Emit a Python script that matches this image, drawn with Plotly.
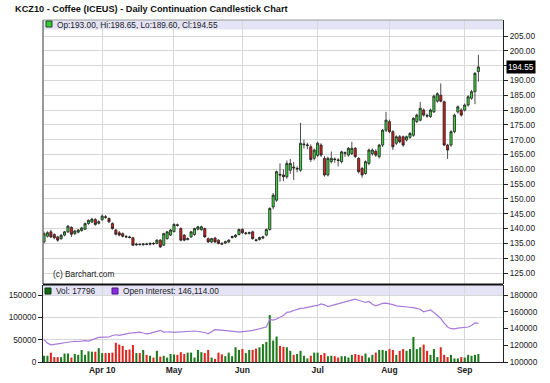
import plotly.graph_objects as go
import pandas as pd

TITLE = "KCZ10 - Coffee (ICEUS) - Daily Continuation Candlestick Chart"
holidays = ["2010-04-02", "2010-05-31", "2010-07-05", "2010-09-06"]
dates = [d for d in pd.bdate_range("2010-03-09", "2010-09-08")
         if d.strftime("%Y-%m-%d") not in holidays]

opens = [135.5, 137.4, 138.9, 138.0, 137.2, 136.6, 137.8, 138.9, 140.4, 138.3,
         138.8, 139.3, 139.8, 141.7, 142.2, 143.1, 141.8, 143.0, 144.0, 143.4,
         141.7, 139.5, 138.6, 138.3, 137.3, 137.2, 136.9, 134.5, 134.7, 134.6,
         134.8, 134.7, 135.0, 135.0, 136.1, 134.4, 136.6, 137.8, 139.0, 141.3,
         140.0, 137.8, 136.3, 137.2, 138.0, 139.8, 139.6, 140.0, 136.6, 135.5,
         136.8, 136.1, 135.0, 135.1, 135.5, 137.0, 137.2, 138.0, 139.7, 138.3,
         138.4, 138.9, 136.2, 136.3, 136.8, 137.8, 139.7, 147.3, 149.6, 158.3,
         158.1, 157.5, 159.7, 160.8, 160.1, 159.7, 168.3, 168.0, 167.6, 163.7,
         164.7, 168.2, 163.7, 158.1, 162.6, 163.5, 163.2, 162.6, 165.4, 164.8,
         165.3, 167.1, 163.7, 160.3, 158.6, 162.0, 165.3, 166.1, 164.3, 168.2,
         173.2, 176.1, 172.7, 168.8, 171.0, 171.0, 169.9, 170.8, 171.5, 176.1,
         176.6, 180.0, 178.2, 177.8, 179.4, 183.0, 185.0, 182.8, 168.2, 168.2,
         172.7, 179.4, 180.0, 180.0, 181.7, 184.0, 186.2, 193.00]
highs = [139.0, 139.1, 139.6, 138.4, 137.6, 138.2, 139.2, 141.2, 140.8, 139.6,
         139.9, 140.6, 142.0, 143.1, 143.6, 143.5, 142.8, 144.8, 144.6, 143.8,
         142.1, 139.9, 139.2, 138.7, 137.9, 137.6, 137.2, 135.2, 135.1, 135.0,
         135.2, 135.3, 135.4, 136.4, 136.4, 138.6, 139.2, 139.9, 141.8, 141.7,
         140.4, 138.1, 137.0, 139.2, 140.3, 140.9, 141.0, 140.3, 137.0, 136.9,
         137.2, 136.4, 135.4, 135.9, 136.4, 137.6, 138.1, 140.0, 140.1, 138.9,
         139.0, 139.3, 136.6, 137.3, 137.6, 140.0, 147.2, 152.0, 159.6, 162.0,
         160.0, 163.0, 163.5, 162.5, 161.0, 175.7, 170.0, 169.0, 168.4, 167.0,
         169.3, 168.8, 164.5, 164.3, 166.0, 164.0, 163.8, 166.3, 166.0, 167.5,
         169.3, 167.5, 164.1, 160.8, 163.0, 167.0, 167.0, 166.8, 168.6, 173.6,
         179.4, 176.8, 173.2, 171.5, 171.6, 171.4, 171.4, 172.6, 177.6, 178.8,
         182.8, 180.5, 178.8, 180.5, 185.2, 186.0, 189.0, 183.2, 168.6, 173.2,
         178.8, 181.6, 180.6, 182.2, 185.0, 186.8, 192.9, 198.65]
lows = [135.0, 137.0, 136.8, 136.4, 135.6, 136.2, 137.4, 138.5, 137.2, 137.9,
        138.4, 139.0, 139.5, 141.3, 141.9, 141.0, 141.4, 142.6, 143.3, 141.9,
        139.6, 137.7, 137.4, 137.0, 136.8, 136.7, 134.1, 134.2, 134.3, 134.2,
        134.4, 134.3, 134.5, 134.7, 133.5, 134.1, 136.3, 137.5, 138.7, 140.7,
        135.7, 135.7, 136.0, 136.9, 137.6, 139.4, 139.3, 136.9, 135.2, 135.1,
        135.2, 134.7, 134.4, 134.8, 135.2, 136.6, 136.9, 137.7, 138.2, 137.9,
        138.0, 136.3, 135.6, 136.0, 136.4, 137.4, 139.3, 146.5, 149.0, 155.8,
        156.0, 156.8, 158.5, 156.4, 159.0, 159.2, 167.0, 166.8, 162.5, 163.0,
        164.2, 164.2, 157.5, 157.6, 162.0, 162.2, 161.0, 162.0, 164.2, 164.3,
        164.8, 163.8, 158.6, 157.2, 158.2, 161.4, 164.6, 164.2, 163.6, 167.5,
        172.6, 172.2, 166.5, 168.2, 168.8, 167.6, 169.4, 170.3, 171.0, 175.6,
        176.2, 177.8, 177.4, 177.3, 179.0, 182.5, 182.6, 167.8, 163.5, 167.6,
        172.2, 178.8, 177.8, 179.5, 181.2, 183.5, 182.0, 189.60]
closes = [138.3, 138.6, 137.2, 136.9, 136.1, 137.7, 138.9, 140.8, 138.1, 139.2,
          139.5, 140.2, 141.7, 142.8, 143.2, 141.4, 142.3, 144.2, 143.8, 142.3,
          140.0, 138.1, 137.8, 137.4, 137.2, 137.0, 134.4, 134.7, 134.6, 134.8,
          134.7, 135.0, 134.9, 136.1, 133.8, 138.3, 138.9, 139.5, 141.4, 141.1,
          136.1, 136.1, 136.6, 138.9, 140.0, 140.6, 140.6, 137.2, 135.5, 136.6,
          135.5, 135.0, 134.8, 135.6, 136.1, 137.3, 137.8, 139.7, 138.6, 138.5,
          138.6, 136.6, 136.0, 137.0, 137.2, 139.7, 146.8, 151.3, 159.2, 158.1,
          157.5, 162.0, 162.0, 160.5, 160.3, 168.8, 168.5, 168.2, 163.3, 166.5,
          168.8, 164.8, 158.1, 163.7, 163.7, 163.3, 163.0, 165.9, 165.6, 167.1,
          167.1, 164.3, 159.2, 158.1, 162.6, 166.5, 166.5, 164.8, 168.2, 173.2,
          176.6, 172.7, 167.6, 171.0, 169.3, 168.2, 171.0, 172.1, 177.2, 178.3,
          180.6, 178.3, 178.0, 180.0, 184.7, 185.5, 183.0, 168.2, 166.5, 172.7,
          178.3, 181.1, 178.3, 181.7, 184.5, 186.2, 192.4, 194.55]
volume = [14000, 14000, 21000, 11000, 11000, 11000, 19000, 19000, 10000, 18000,
          16000, 27000, 16000, 24000, 23000, 23000, 31000,
          20000, 20000, 20000, 21000, 43000, 39000, 36000, 27000, 28000, 38000,
          20000, 20000, 27000, 16000, 14000, 10000, 25000, 12000, 14000, 10000, 18000,
          17000, 16000, 22000, 18000, 21000, 21000, 10000, 27000, 22000, 20000,
          27000, 10000, 7000, 21000, 17000, 13000, 21000, 13000, 33000, 27000,
          29000, 20000, 27000, 27000, 30000, 33000, 40000, 45000, 105000, 48000,
          57000, 36000, 34000, 33000, 25000, 16000, 18000, 25000, 14000, 8000,
          14000, 21000,
          21000, 16000, 20000, 13000, 14000, 13000, 10000, 13000, 13000, 10000,
          16000, 18000, 16000, 14000, 19000, 10000, 16000, 21000, 27000,
          27000, 25000, 29000, 27000, 16000, 25000, 29000, 25000, 29000, 56000,
          29000, 33000, 39000, 25000, 16000, 29000, 11000, 33000, 16000, 11000,
          16000, 8000, 8000, 11000, 10000, 16000, 14000, 16000, 17796]
open_interest = [126800, 122500, 120500, 121400, 122000, 122300, 123000, 123600, 124200, 124800,
                 124500, 125300, 125600, 125000, 126800, 127900, 129400,
                 129600, 130400, 130100, 131600, 132500, 131800, 133000, 133400, 134500, 134800,
                 135300, 135700, 134600, 133700, 134200, 135100, 136200, 137800, 135700, 135900,
                 136100,
                 135400, 135800, 135600, 135700, 136200, 136600, 137000, 136400, 135900, 135200,
                 133700, 136500, 138600, 138400, 138000, 137500, 137800, 137000, 136300, 135700,
                 135900, 136400, 137100, 137800, 138900, 140200, 141000, 141800, 150700, 150000,
                 151400, 153200, 155600, 159300, 159800, 161500, 162900, 164100, 164400, 165500,
                 166300, 167000,
                 167500, 169400, 168300, 166200, 167400, 168600, 169400, 170500, 171600, 172900,
                 174300, 175100, 173700, 172400, 171100, 172300, 169000, 167000, 168400, 169900,
                 170200,
                 169700, 168500, 167000, 166800, 166200, 165800, 165400, 164900, 164100, 163000,
                 160000, 161200, 162100, 159000, 155200, 152000, 146500, 141800, 139800, 139600,
                 140400, 141000, 141300, 141800, 143500, 146700, 146114]

month_labels = ["Apr 10", "May", "Jun", "Jul", "Aug", "Sep"]
price_ticks = [125, 130, 135, 140, 145, 150, 155, 160, 165, 170, 175, 180, 185, 190, 195, 200, 205]
vol_ticks = [0, 50000, 100000, 150000]
oi_ticks = [100000, 120000, 140000, 160000, 180000]

n = len(closes)
x = list(range(n))
month_idx = []
for k in range(1, len(dates)):
    if dates[k].month != dates[k - 1].month:
        month_idx.append(k)

# pixel helpers (plot area: x 43..503, y 20..362)
L, R, T, B = 43, 503, 20, 362
def pxx(p):
    return (p - L) / (R - L)
def pxy(p):
    return (B - p) / (B - T)

GRID = "#d8d8d8"
FONT = "Liberation Sans, Arial, sans-serif"
SMALL = 8.3

vol_colors = ["#1d7a1d" if c >= o else "#e0261f" for o, c in zip(opens, closes)]

fig = go.Figure()
fig.add_trace(go.Bar(x=x, y=volume, xaxis="x", yaxis="y2", marker_color=vol_colors,
                     marker_line_width=0, width=0.6, showlegend=False, hoverinfo="skip"))
fig.add_trace(go.Scatter(x=x, y=open_interest, xaxis="x", yaxis="y3", mode="lines",
                         line=dict(color="#a77ad8", width=1.2), showlegend=False, hoverinfo="skip"))
fig.add_trace(go.Candlestick(x=x, open=opens, high=highs, low=lows, close=closes,
                             xaxis="x2", yaxis="y",
                             increasing=dict(fillcolor="#3fd63f", line=dict(color="#202020", width=0.8)),
                             decreasing=dict(fillcolor="#d91c1c", line=dict(color="#202020", width=0.8)),
                             whiskerwidth=0, showlegend=False, hoverinfo="skip"))

main_bottom = pxy(284)
low_top = pxy(285)
xr = [-0.3, 134.2]

price_text = [("" if v == 195 else f"{v:.2f}") for v in price_ticks]

fig.update_layout(
    width=550, height=383,
    margin=dict(l=L, r=550 - R, t=T, b=383 - B, autoexpand=False),
    paper_bgcolor="white", plot_bgcolor="white",
    font=dict(family=FONT, size=SMALL, color="#222"),
    boxgap=0.1,
    xaxis=dict(domain=[0, 1], anchor="y2", range=xr, tickvals=month_idx,
               ticktext=[f"<b>{t}</b>" for t in month_labels], ticks="",
               showgrid=True, gridcolor=GRID, gridwidth=1, zeroline=False,
               showline=True, linecolor="#222", linewidth=1, automargin=False,
               rangeslider=dict(visible=False), tickfont=dict(size=8.5, color="#222")),
    xaxis2=dict(domain=[0, 1], anchor="y", range=xr, matches="x", tickvals=month_idx,
                showticklabels=False, ticks="", showgrid=True, gridcolor=GRID,
                zeroline=False, showline=False, automargin=False,
                rangeslider=dict(visible=False)),
    yaxis=dict(domain=[main_bottom, 1], side="right", range=[121.3, 210.4],
               tickvals=price_ticks, ticktext=price_text, ticks="outside", ticklen=4,
               tickcolor="#222", showline=True, linecolor="#222", linewidth=1, automargin=False,
               showgrid=True, gridcolor=GRID, zeroline=False, tickfont=dict(size=SMALL)),
    yaxis2=dict(domain=[0, low_top], side="left", range=[0, 172400], tickvals=vol_ticks,
                ticktext=[str(v) for v in vol_ticks], automargin=False,
                ticks="outside", ticklen=4, tickcolor="#222", showline=True, linecolor="#222",
                showgrid=True, gridcolor=GRID, zeroline=False, tickfont=dict(size=SMALL)),
    yaxis3=dict(overlaying="y2", side="right", range=[100000, 191940], tickvals=oi_ticks,
                ticktext=[str(v) for v in oi_ticks], automargin=False,
                ticks="outside", ticklen=4, tickcolor="#222", showline=True, linecolor="#222",
                showgrid=False, zeroline=False, tickfont=dict(size=SMALL), anchor="x"),
)

shapes = [
    dict(type="rect", xref="paper", yref="paper", x0=0, x1=1, y0=pxy(29.5), y1=1,
         fillcolor="#e4e4f6", line=dict(width=0), layer="below"),
    dict(type="rect", xref="paper", yref="paper", x0=0, x1=1, y0=pxy(296), y1=pxy(285),
         fillcolor="#e4e4f6", line=dict(width=0), layer="below"),
    dict(type="line", xref="paper", yref="paper", x0=0, x1=0, y0=main_bottom, y1=1,
         line=dict(color="#777", width=1.5)),
    dict(type="line", xref="paper", yref="paper", x0=0, x1=1, y0=1, y1=1,
         line=dict(color="#999", width=1)),
    dict(type="line", xref="paper", yref="paper", x0=0, x1=1, y0=pxy(284.5), y1=pxy(284.5),
         line=dict(color="#111", width=2)),
    dict(type="rect", xref="paper", yref="paper", x0=pxx(46), x1=pxx(52), y0=pxy(27), y1=pxy(21),
         fillcolor="#33cc33", line=dict(color="#224422", width=1)),
    dict(type="rect", xref="paper", yref="paper", x0=pxx(45), x1=pxx(51), y0=pxy(294), y1=pxy(288),
         fillcolor="#146a14", line=dict(color="#0a3a0a", width=1)),
    dict(type="rect", xref="paper", yref="paper", x0=pxx(112), x1=pxx(118), y0=pxy(294), y1=pxy(288),
         fillcolor="#8a2be2", line=dict(color="#4a1a80", width=1)),
]
fig.update_layout(shapes=shapes)

ann = [
    dict(text=f"<b>{TITLE}</b>", x=pxx(13), y=pxy(9), xref="paper", yref="paper",
         xanchor="left", yanchor="middle", showarrow=False, font=dict(size=9.2, color="#111")),
    dict(text=f"Op:{opens[-1]:.2f}, Hi:{highs[-1]:.2f}, Lo:{lows[-1]:.2f}, Cl:{closes[-1]:.2f}",
         x=pxx(55), y=pxy(24.5), xref="paper", yref="paper", xanchor="left", yanchor="middle",
         showarrow=False, font=dict(size=SMALL, color="#222")),
    dict(text=f"Vol: {volume[-1]}", x=pxx(54), y=pxy(291), xref="paper", yref="paper",
         xanchor="left", yanchor="middle", showarrow=False, font=dict(size=SMALL, color="#222")),
    dict(text=f"Open Interest: {open_interest[-1]:,.2f}", x=pxx(121), y=pxy(291), xref="paper",
         yref="paper", xanchor="left", yanchor="middle", showarrow=False,
         font=dict(size=SMALL, color="#222")),
    dict(text="(c) Barchart.com", x=pxx(51), y=pxy(274), xref="paper", yref="paper",
         xanchor="left", yanchor="middle", showarrow=False, font=dict(size=SMALL, color="#222")),
    dict(text=f"{closes[-1]:.2f}", x=pxx(506), y=closes[-1], xref="paper", yref="y",
         xanchor="left", yanchor="middle", showarrow=False, bgcolor="#000",
         borderpad=1, font=dict(size=SMALL, color="#fff")),
]
fig.update_layout(annotations=ann)

fig.write_html("out.html", config={"displayModeBar": False},
               post_script="document.body.style.margin='0';")
